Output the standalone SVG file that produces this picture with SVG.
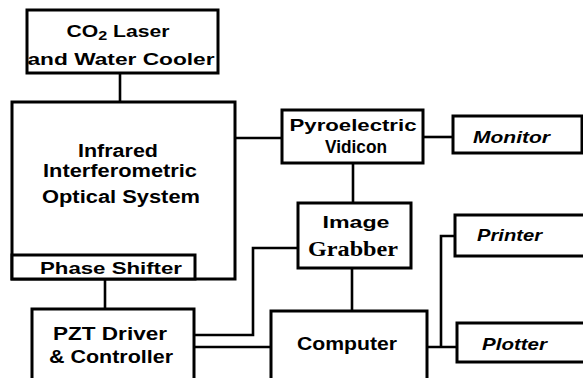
<svg xmlns="http://www.w3.org/2000/svg" width="583" height="378" viewBox="0 0 583 378">
<style>
.box{fill:#fff;stroke:#000;stroke-width:3}
.ln{fill:none;stroke:#000;stroke-width:2.6}
svg{font-size:17px}
text{font-family:"Liberation Sans",Arial,sans-serif;font-weight:bold;fill:#000}
.c{text-anchor:middle}
.it{font-style:italic}
</style>
<rect width="583" height="378" fill="#fff"/>
<g id="connectors">
<path class="ln" d="M120 73V102"/>
<path class="ln" d="M105 279V309"/>
<path class="ln" d="M235 138H282"/>
<path class="ln" d="M423 137H453"/>
<path class="ln" d="M353 163V203"/>
<path class="ln" d="M194 335H253V248H298"/>
<path class="ln" d="M194 347H271"/>
<path class="ln" d="M352 268V311"/>
<path class="ln" d="M427 347H457M441 347V236H455"/>
</g>
<g id="laser">
<rect class="box" x="27" y="10" width="191" height="63"/>
<text class="c" x="118" y="37" font-size="17" textLength="103" lengthAdjust="spacingAndGlyphs">CO<tspan font-size="13" dy="3">2</tspan><tspan dy="-3"> Laser</tspan></text>
<text class="c" x="121" y="65" font-size="17" textLength="187" lengthAdjust="spacingAndGlyphs">and Water Cooler</text>
</g>
<g id="infrared">
<rect class="box" x="12" y="102" width="223" height="177"/>
<text class="c" x="118" y="157" font-size="18" textLength="80" lengthAdjust="spacingAndGlyphs">Infrared</text>
<text class="c" x="120" y="177" font-size="18" textLength="154" lengthAdjust="spacingAndGlyphs">Interferometric</text>
<text class="c" x="121" y="203" font-size="18" textLength="158" lengthAdjust="spacingAndGlyphs">Optical System</text>
</g>
<g id="phase-shifter">
<rect class="box" x="12" y="255" width="183" height="24"/>
<text class="c" x="111" y="274" font-size="17" textLength="142" lengthAdjust="spacingAndGlyphs">Phase Shifter</text>
</g>
<g id="pzt">
<rect class="box" x="32" y="309" width="162" height="80"/>
<text class="c" x="110" y="340" font-size="18" textLength="114" lengthAdjust="spacingAndGlyphs">PZT Driver</text>
<text class="c" x="111" y="363" font-size="18" textLength="124" lengthAdjust="spacingAndGlyphs">&amp; Controller</text>
</g>
<g id="pyroelectric">
<rect class="box" x="282" y="110" width="141" height="53"/>
<text class="c" x="353" y="131" font-size="17" textLength="127" lengthAdjust="spacingAndGlyphs">Pyroelectric</text>
<text class="c" x="356" y="153" font-size="18" textLength="62" lengthAdjust="spacingAndGlyphs">Vidicon</text>
</g>
<g id="monitor">
<rect class="box" x="453" y="116" width="129" height="37"/>
<text class="it" x="473" y="143" font-size="17" textLength="77" lengthAdjust="spacingAndGlyphs">Monitor</text>
</g>
<g id="image-grabber">
<rect class="box" x="298" y="203" width="113" height="65"/>
<text class="c" x="356" y="228" font-size="17" textLength="67" lengthAdjust="spacingAndGlyphs">Image</text>
<text class="c" x="353" y="256" style="font-family:'Liberation Serif','Times New Roman',serif" font-size="21" textLength="90" lengthAdjust="spacingAndGlyphs">Grabber</text>
</g>
<g id="printer">
<rect class="box" x="455" y="215" width="140" height="41"/>
<text class="it" x="477" y="241" font-size="17" textLength="65" lengthAdjust="spacingAndGlyphs">Printer</text>
</g>
<g id="computer">
<rect class="box" x="271" y="311" width="156" height="80"/>
<text class="c" x="347" y="350" font-size="18" textLength="100" lengthAdjust="spacingAndGlyphs">Computer</text>
</g>
<g id="plotter">
<rect class="box" x="457" y="323" width="140" height="39"/>
<text class="it" x="482" y="350" font-size="17" textLength="65" lengthAdjust="spacingAndGlyphs">Plotter</text>
</g>
</svg>
